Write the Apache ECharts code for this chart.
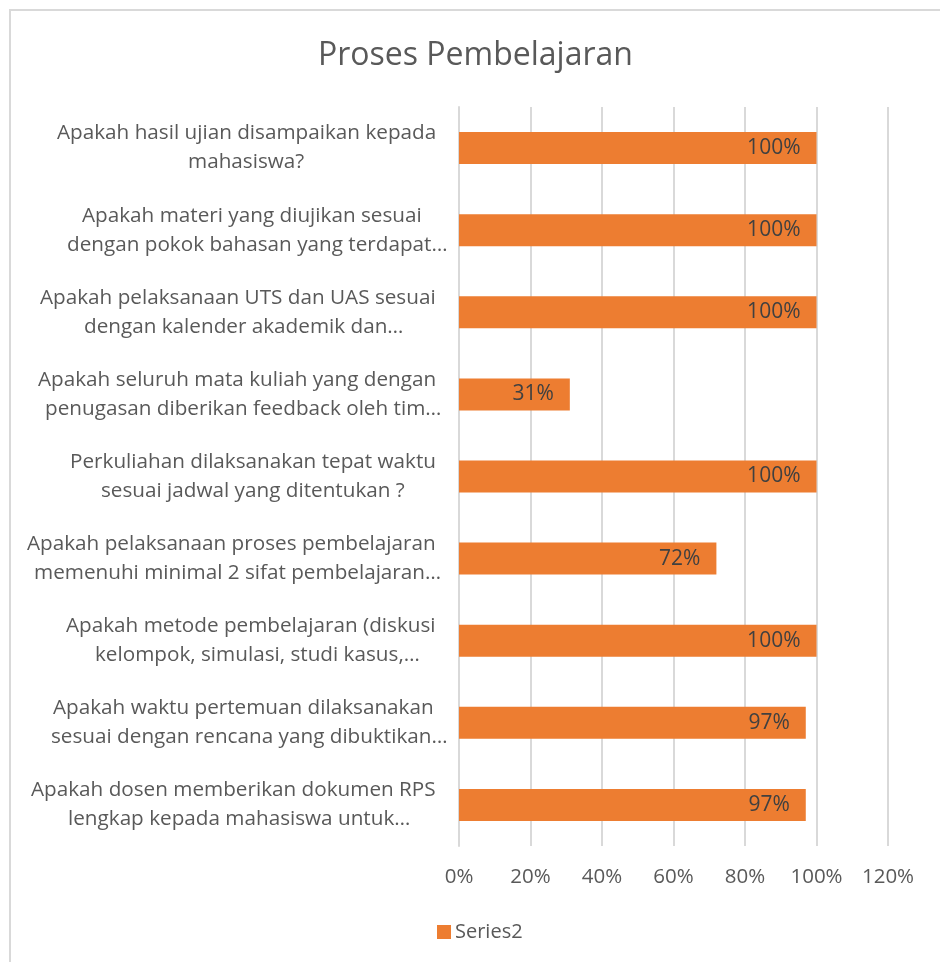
<!DOCTYPE html>
<html>
<head>
<meta charset="utf-8">
<script src="https://cdn.jsdelivr.net/npm/echarts@6/dist/echarts.min.js"></script>
<style>
html,body{margin:0;padding:0;background:#fff;}
#frame{position:absolute;left:9px;top:9px;width:960px;height:980px;border:2px solid #d9d9d9;box-sizing:border-box;}
#chart{position:absolute;left:0;top:0;width:940px;height:962px;}
</style>
</head>
<body>
<div id="frame"></div>
<div id="chart"></div>
<script>
const categories = [
  "Apakah hasil ujian disampaikan kepada\nmahasiswa?",
  "Apakah materi yang diujikan sesuai\ndengan pokok bahasan yang terdapat…",
  "Apakah pelaksanaan UTS dan UAS sesuai\ndengan kalender akademik dan…",
  "Apakah seluruh mata kuliah yang dengan\npenugasan diberikan feedback oleh tim…",
  "Perkuliahan dilaksanakan tepat waktu\nsesuai jadwal yang ditentukan ?",
  "Apakah pelaksanaan proses pembelajaran\nmemenuhi minimal 2 sifat pembelajaran…",
  "Apakah metode pembelajaran (diskusi\nkelompok, simulasi, studi kasus,…",
  "Apakah waktu pertemuan dilaksanakan\nsesuai dengan rencana yang dibuktikan…",
  "Apakah dosen memberikan dokumen RPS\nlengkap kepada mahasiswa untuk…"
];
const series2 = [100, 100, 100, 31, 100, 72, 100, 97, 97];
const seriesName = "Series2";
const chartTitle = "Proses Pembelajaran";

const font = "'Open Sans', 'Liberation Sans', sans-serif";
const labelSize = 20.7;
const gridLeft = 459;
const blockLeft = 6;      // left anchor of label block (px)
const blockRight = 436;   // right edge of label block (px)
const ellipsisSlack = 12; // Excel-like: ellipsis not fully counted in centering

const ctx = document.createElement('canvas').getContext('2d');
ctx.font = labelSize + 'px ' + font;

const rich = {};
const labelMap = {};
categories.forEach(cat => {
  const lines = cat.split('\n');
  const eff = lines.map(l => {
    const w = ctx.measureText(l).width;
    return l.endsWith('…') ? w - ellipsisSlack : w;
  });
  const W = Math.max.apply(null, eff);
  labelMap[cat] = lines.map((l, i) => {
    const pad = Math.max(0, Math.round((blockRight - blockLeft) - W + (W - eff[i]) / 2));
    const name = 'p' + pad;
    if (!rich[name]) {
      rich[name] = {
        fontFamily: font, fontSize: labelSize, color: '#595959',
        lineHeight: 29, padding: [0, 0, 0, pad]
      };
    }
    return '{' + name + '|' + l + '}';
  }).join('\n');
});

const chart = echarts.init(document.getElementById('chart'), null, {renderer: 'canvas'});
chart.setOption({
  animation: false,
  backgroundColor: 'transparent',
  title: {
    text: chartTitle,
    left: 313,
    top: 35,
    textStyle: {fontFamily: font, fontSize: 32, fontWeight: 'normal', color: '#595959'}
  },
  legend: {
    bottom: 15,
    left: 432,
    itemWidth: 14,
    itemHeight: 14,
    itemGap: 10,
    icon: 'rect',
    textStyle: {fontFamily: font, fontSize: 20, color: '#595959', padding: [0, 0, 0, -1]},
    data: [seriesName]
  },
  grid: {left: gridLeft, right: 52, top: 107, height: 739, containLabel: false},
  xAxis: {
    type: 'value',
    min: 0, max: 120, interval: 20,
    axisLine: {show: false},
    axisTick: {show: false},
    splitLine: {show: true, lineStyle: {color: '#d9d9d9', width: 2}},
    axisLabel: {
      formatter: v => v + '%',
      fontFamily: font, fontSize: 20.5, color: '#595959', margin: 21
    }
  },
  yAxis: {
    type: 'category',
    inverse: true,
    data: categories,
    axisLine: {show: true, lineStyle: {color: '#d9d9d9', width: 2}},
    axisTick: {show: false},
    axisLabel: {
      interval: 0,
      formatter: v => labelMap[v],
      rich: rich,
      fontFamily: font, fontSize: labelSize, color: '#595959',
      align: 'left', margin: gridLeft - blockLeft, lineHeight: 29
    }
  },
  series: [{
    name: seriesName,
    type: 'bar',
    data: series2,
    barCategoryGap: '61%',
    itemStyle: {color: '#ED7D31'},
    label: {
      show: true,
      position: 'insideRight',
      distance: 16,
      formatter: p => p.value + '%',
      fontFamily: font, fontSize: 21, color: '#404040'
    }
  }]
});
</script>
</body>
</html>
